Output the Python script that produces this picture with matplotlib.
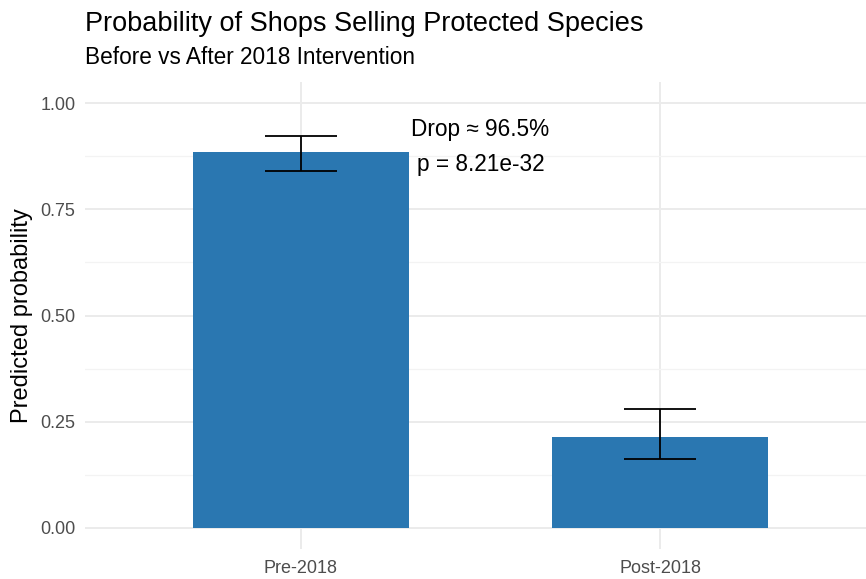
import numpy as np
import matplotlib
matplotlib.use('Agg')
import matplotlib.pyplot as plt

plt.rcParams['font.family'] = ['Liberation Sans', 'DejaVu Sans']

# Model predictions per period
periods = ['Pre-2018', 'Post-2018']
prob = [0.885, 0.214]
ci_low = [0.840, 0.162]
ci_high = [0.922, 0.280]
note = 'Drop ≈ 96.5%\np = 8.21e-32'

fig = plt.figure(figsize=(8.66, 5.79), dpi=100)
left, right, top, bottom = 85 / 866, 1.0, 1 - 82 / 579, 1 - 549 / 579
ax = fig.add_axes([left, bottom, right - left, top - bottom])

x = np.arange(1, len(periods) + 1)
ax.bar(x, prob, width=0.6, color='#2a77b1', zorder=2)

# Error bars with caps drawn in data units
ax.vlines(x, ci_low, ci_high, color='black', linewidth=1.3, zorder=3)
ax.hlines(ci_low, x - 0.1, x + 0.1, color='black', linewidth=1.3, zorder=3)
ax.hlines(ci_high, x - 0.1, x + 0.1, color='black', linewidth=1.3, zorder=3)

ax.text(1.5, 0.897, note, ha='center', va='center', fontsize=16.3,
        linespacing=1.7, zorder=4)

ax.set_xlim(0.4, 1 + (866 - 300) / 360)
ax.set_ylim(-0.05, 1.05)
ax.set_xticks(x)
ax.set_xticklabels(periods)
ax.set_yticks([0, 0.25, 0.5, 0.75, 1.0])
ax.set_yticklabels(['0.00', '0.25', '0.50', '0.75', '1.00'])
ax.set_yticks([0.125, 0.375, 0.625, 0.875], minor=True)

ax.grid(True, which='major', color='#ebebeb', linewidth=1.4, zorder=0)
ax.grid(True, which='minor', axis='y', color='#f3f3f3', linewidth=0.9, zorder=0)
ax.set_axisbelow(True)
for s in ax.spines.values():
    s.set_visible(False)
ax.tick_params(which='both', length=0, labelsize=13, labelcolor='#4d4d4d')
ax.tick_params(axis='x', pad=8)
ax.tick_params(axis='y', pad=7)

ax.set_ylabel('Predicted probability', fontsize=17)
ax.yaxis.label.set_verticalalignment('center')
ax.yaxis.set_label_coords((22 - 85) / 781, 0.5)

fig.text(left, 1 - 31 / 579, 'Probability of Shops Selling Protected Species',
         fontsize=19.5, va='baseline', ha='left')
fig.text(left, 1 - 64 / 579, 'Before vs After 2018 Intervention',
         fontsize=16.3, va='baseline', ha='left')

fig.savefig('out.png', dpi=100)
